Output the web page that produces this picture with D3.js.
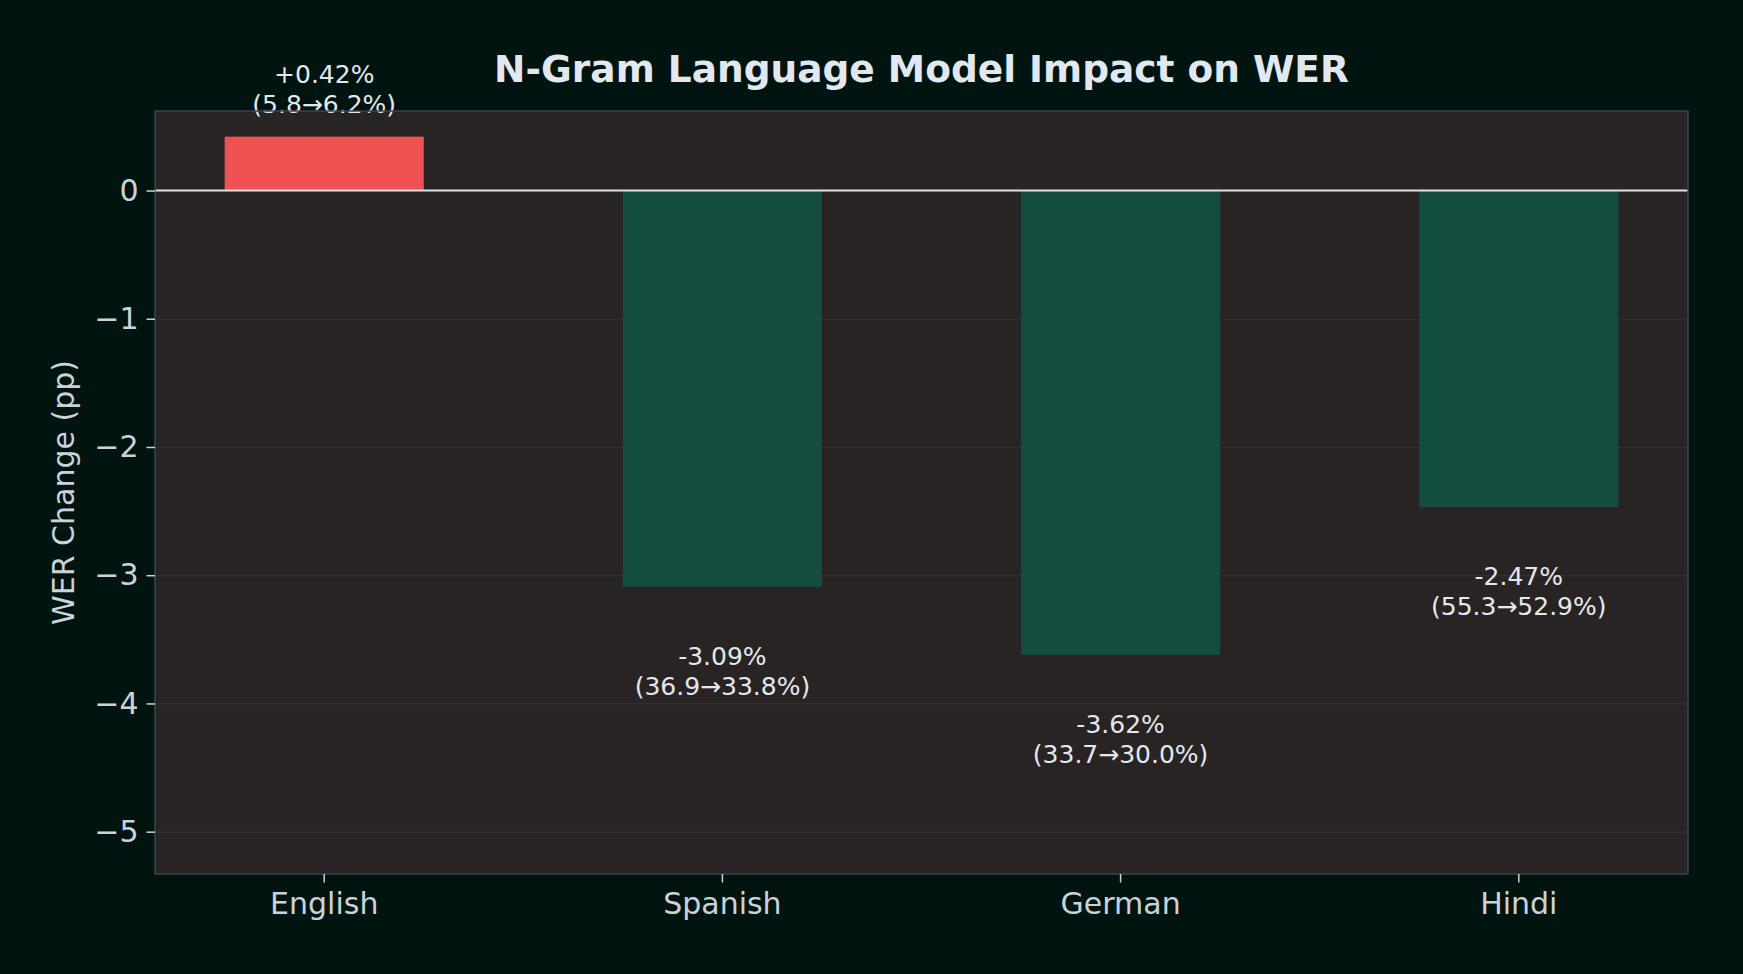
<!DOCTYPE html>
<html>
<head>
<meta charset="utf-8">
<script src="https://cdn.jsdelivr.net/npm/d3@7"></script>
<style>
  body { margin: 0; background: #011410; }
  svg text { font-family: "DejaVu Sans", sans-serif; }
  .axis path { display: none; }
  .axis line { stroke: #cbd2da; stroke-width: 1.5; }
  .axis text { fill: #cbd2da; font-size: 30px; }
  .grid line { stroke: #36302f; stroke-width: 1.2; }
  .grid path { display: none; }
</style>
</head>
<body>
<div id="chart"></div>
<script>
var languages = ["English", "Spanish", "German", "Hindi"];
var werChange = [0.42, -3.09, -3.62, -2.47];
var werBefore = [5.8, 36.9, 33.7, 55.3];
var werAfter = [6.2, 33.8, 30.0, 52.9];
var yTicks = [0, -1, -2, -3, -4, -5];

var W = 1743, H = 974;
var margin = {top: 111, right: 55, bottom: 100, left: 155};
var width = W - margin.left - margin.right;
var height = H - margin.top - margin.bottom;

var svg = d3.select("#chart").append("svg")
  .attr("width", W).attr("height", H)
  .style("background", "#011410");

var x = d3.scaleBand().domain(languages).range([0, width])
  .paddingInner(0.5).paddingOuter(0.175);
var y = d3.scaleLinear().domain([-5.33, 0.62]).range([height, 0]);

var g = svg.append("g").attr("transform", "translate(" + margin.left + "," + margin.top + ")");

g.append("rect").attr("width", width).attr("height", height).attr("fill", "#282424");

// grid
g.append("g").attr("class", "grid")
  .call(d3.axisLeft(y).tickValues(yTicks).tickSize(-width).tickFormat(""));

// bars
var data = languages.map(function(d, i) {
  return {lang: d, change: werChange[i], before: werBefore[i], after: werAfter[i]};
});

g.selectAll(".bar").data(data).enter().append("rect")
  .attr("x", function(d) { return x(d.lang); })
  .attr("width", x.bandwidth())
  .attr("y", function(d) { return y(Math.max(0, d.change)); })
  .attr("height", function(d) { return Math.abs(y(d.change) - y(0)); })
  .attr("fill", function(d) { return d.change > 0 ? "#f05254" : "#124d40"; });

// zero line
g.append("line").attr("x1", 0).attr("x2", width)
  .attr("y1", y(0)).attr("y2", y(0))
  .attr("stroke", "#dde1e8").attr("stroke-width", 1.8);

// labels
var lbl = g.selectAll(".lbl").data(data).enter().append("text")
  .attr("text-anchor", "middle")
  .attr("fill", "#e4e8ee")
  .style("font-size", "25px");
lbl.each(function(d) {
  var t = d3.select(this);
  var cx = x(d.lang) + x.bandwidth() / 2;
  var first = d.change > 0 ? y(d.change) - 54 : y(d.change) + 78;
  var s = (d.change > 0 ? "+" : "") + d.change.toFixed(2) + "%";
  t.append("tspan").attr("x", cx).attr("y", first).text(s);
  t.append("tspan").attr("x", cx).attr("y", first + 30)
    .text("(" + d.before.toFixed(1) + "\u2192" + d.after.toFixed(1) + "%)");
});

// frame
g.append("rect").attr("width", width).attr("height", height)
  .attr("fill", "none").attr("stroke", "#3d4250").attr("stroke-width", 1.5);

// axes
g.append("g").attr("class", "axis")
  .call(d3.axisLeft(y).tickValues(yTicks).tickSize(8.5).tickPadding(8).tickFormat(d3.format("d")));
g.append("g").attr("class", "axis").attr("transform", "translate(0," + height + ")")
  .call(d3.axisBottom(x).tickSize(8.5).tickPadding(10));

// titles
svg.append("text").attr("x", margin.left + width / 2).attr("y", 82)
  .attr("text-anchor", "middle").attr("fill", "#e2e8f0")
  .style("font-size", "37.5px").style("font-weight", "bold")
  .text("N-Gram Language Model Impact on WER");

svg.append("text")
  .attr("transform", "translate(74," + (margin.top + height / 2) + ") rotate(-90)")
  .attr("text-anchor", "middle").attr("fill", "#cbd2da")
  .style("font-size", "30px")
  .text("WER Change (pp)");
</script>
</body>
</html>
